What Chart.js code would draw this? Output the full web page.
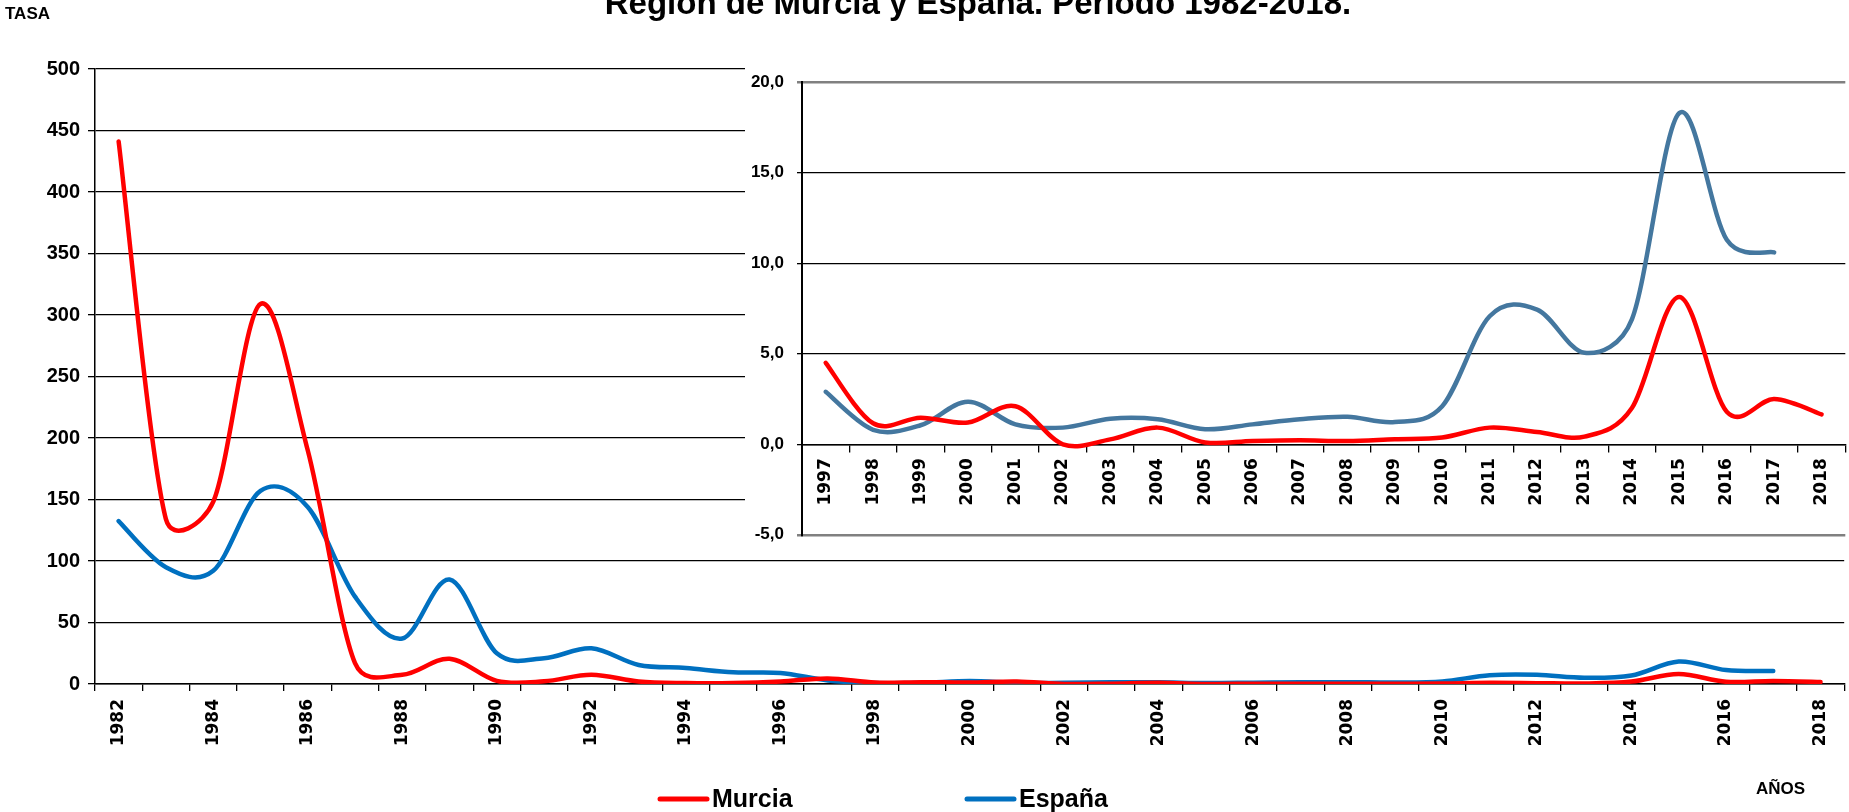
<!DOCTYPE html>
<html>
<head>
<meta charset="utf-8">
<script src="https://cdn.jsdelivr.net/npm/chart.js@4.4.1/dist/chart.umd.min.js"></script>
<style>
    html, body { margin: 0; padding: 0; background: #fff; overflow: hidden; }
    #wrap { position: relative; width: 1849px; height: 812px; }
    #mainChart { position: absolute; left: 0; top: 0; }
    #insetChart { position: absolute; left: 745px; top: 59px; background: #fff; }
</style>
</head>
<body>
<div id="wrap">
    <canvas id="mainChart" width="1849" height="812"></canvas>
    <canvas id="insetChart" width="1104" height="499"></canvas>
</div>
<script>
// data
const years = ['1982', '1983', '1984', '1985', '1986', '1987', '1988', '1989', '1990', '1991',
    '1992', '1993', '1994', '1995', '1996', '1997', '1998', '1999', '2000', '2001',
    '2002', '2003', '2004', '2005', '2006', '2007', '2008', '2009', '2010', '2011',
    '2012', '2013', '2014', '2015', '2016', '2017', '2018'];

const murcia = [441, 134, 148, 309, 190, 17, 7.5, 20.5, 2.5, 2.2,
    7.5, 2, 0.8, 0.8, 2, 4.5, 1.16, 1.47, 1.2, 2.1,
    0.0, 0.27, 0.92, 0.1, 0.18, 0.22, 0.18, 0.28, 0.37, 0.92,
    0.68, 0.42, 2.0, 8.14, 1.8, 2.5, 1.65];

const espana = [132.5, 95, 92, 157, 144, 71, 37, 85, 25, 21,
    29, 15.5, 13, 9.5, 9, 2.9, 0.8, 1.05, 2.35, 1.1,
    0.92, 1.41, 1.38, 0.83, 1.1, 1.38, 1.52, 1.23, 2.1, 7.07,
    7.44, 5.05, 6.9, 18.3, 11.3, 10.6, null];

// the small chart starts in 1997
const insetStart = years.indexOf('1997');

const titleText = 'Región de Murcia y España. Periodo 1982-2018.';
const yTitle = 'TASA';
const xTitle = 'AÑOS';

const FONT = "'Liberation Sans', Arial, sans-serif";
const TICK_FONT = "'DejaVu Sans', Verdana, sans-serif";

// spreadsheet-style smoothing: control points at 1/6 of the neighbour span,
// shortened when the segment itself is short
const smoothLines = {
    id: 'smoothLines',
    afterDatasetsUpdate(chart) {
        chart.data.datasets.forEach((ds, i) => {
            const meta = chart.getDatasetMeta(i);
            const pts = meta.data.filter(p => !p.skip);
            const dist = (a, b) => Math.hypot(b.x - a.x, b.y - a.y);
            pts.forEach((p, k) => {
                const prev = pts[k - 1] || p;
                const next = pts[k + 1] || p;
                const span = dist(prev, next) || 1;
                const fIn = Math.min(1 / 6, dist(prev, p) / (2 * span));
                const fOut = Math.min(1 / 6, dist(p, next) / (2 * span));
                p.cp1x = p.x - fIn * (next.x - prev.x);
                p.cp1y = p.y - fIn * (next.y - prev.y);
                p.cp2x = p.x + fOut * (next.x - prev.x);
                p.cp2y = p.y + fOut * (next.y - prev.y);
            });
            meta.dataset._pointsUpdated = true;
        });
    }
};

// title, axis titles and legend drawn on the main canvas
const textPlugin = {
    id: 'texts',
    afterDraw(chart) {
        const ctx = chart.ctx;
        ctx.save();
        ctx.fillStyle = '#000';

        ctx.font = 'bold 33px ' + FONT;
        ctx.textAlign = 'center';
        ctx.textBaseline = 'alphabetic';
        ctx.fillText(titleText, 978, 14);

        ctx.textAlign = 'left';
        ctx.textBaseline = 'middle';
        ctx.font = 'bold 17px ' + FONT;
        ctx.fillText(yTitle, 5, 14);
        ctx.font = 'bold 17px ' + FONT;
        ctx.fillText(xTitle, 1756, 789);

        const legendX = [660, 967];
        chart.data.datasets.forEach((ds, i) => {
            const x = legendX[i];
            ctx.strokeStyle = ds.borderColor;
            ctx.lineWidth = 5;
            ctx.lineCap = 'round';
            ctx.beginPath();
            ctx.moveTo(x, 799);
            ctx.lineTo(x + 47, 799);
            ctx.stroke();
            ctx.fillStyle = '#000';
            ctx.font = 'bold 25px ' + FONT;
            ctx.fillText(ds.label, x + 52, 800);
        });
        ctx.restore();
    }
};

const mainChart = new Chart(document.getElementById('mainChart'), {
    type: 'line',
    data: {
        labels: years,
        datasets: [
            { label: 'Murcia', data: murcia, borderColor: '#FF0000' },
            { label: 'España', data: espana, borderColor: '#0070C0' }
        ]
    },
    options: {
        responsive: false,
        animation: false,
        layout: { padding: { top: 69, right: 4, left: 0, bottom: 0 } },
        elements: {
            point: { radius: 0 },
            line: { borderWidth: 4.5, tension: 0.4, borderCapStyle: 'round', borderJoinStyle: 'round' }
        },
        plugins: { legend: { display: false }, tooltip: { enabled: false } },
        scales: {
            x: {
                offset: true,
                grid: { offset: true, drawOnChartArea: false, tickLength: 7, color: '#000', lineWidth: 1.3 },
                border: { color: '#000', width: 1.5 },
                ticks: {
                    autoSkip: false, minRotation: 90, maxRotation: 90, padding: 8,
                    color: '#000', font: { family: TICK_FONT, size: 17, weight: 'bold' },
                    callback: function (v, i) { return i % 2 === 0 ? this.getLabelForValue(v) : ''; }
                },
                afterFit: s => { s.height = 128; }
            },
            y: {
                min: 0, max: 500,
                grid: { color: '#000', lineWidth: 1.3, tickLength: 7 },
                border: { color: '#000', width: 1.5 },
                ticks: { stepSize: 50, padding: 8, color: '#000', font: { family: FONT, size: 20, weight: 'bold' } },
                afterFit: s => { s.width = 95; }
            }
        }
    },
    plugins: [smoothLines, textPlugin]
});

// inset: 1997-2018 on a finer scale
const frameTicks = [20, -5];
const insetChart = new Chart(document.getElementById('insetChart'), {
    type: 'line',
    data: {
        labels: years.slice(insetStart),
        datasets: [
            { label: 'Murcia', data: murcia.slice(insetStart), borderColor: '#FF0000' },
            { label: 'España', data: espana.slice(insetStart), borderColor: '#44779F' }
        ]
    },
    options: {
        responsive: false,
        animation: false,
        layout: { padding: { top: 20, right: 0, left: 0, bottom: 10 } },
        elements: {
            point: { radius: 0 },
            line: { borderWidth: 4.5, tension: 0.4, borderCapStyle: 'round', borderJoinStyle: 'round' }
        },
        plugins: { legend: { display: false }, tooltip: { enabled: false } },
        scales: {
            x: {
                position: { y: 0 },
                offset: true,
                grid: { offset: true, drawOnChartArea: false, tickLength: 7, color: '#000', lineWidth: 1.3 },
                border: { color: '#000', width: 1.5 },
                ticks: {
                    autoSkip: false, minRotation: 90, maxRotation: 90, padding: 7,
                    color: '#000', font: { family: TICK_FONT, size: 17, weight: 'bold' }
                }
            },
            y: {
                min: -5, max: 20,
                grid: {
                    tickLength: 5,
                    color: c => frameTicks.includes(c.tick.value) ? '#808080' : '#000',
                    lineWidth: c => frameTicks.includes(c.tick.value) ? 2.5 : 1.3
                },
                border: { color: '#000', width: 2 },
                ticks: {
                    stepSize: 5, padding: 13, color: '#000',
                    font: { family: FONT, size: 17, weight: 'bold' },
                    callback: v => v.toFixed(1).replace('.', ',')
                },
                afterFit: s => { s.width = 57; }
            }
        }
    },
    plugins: [smoothLines]
});
</script>
</body>
</html>
